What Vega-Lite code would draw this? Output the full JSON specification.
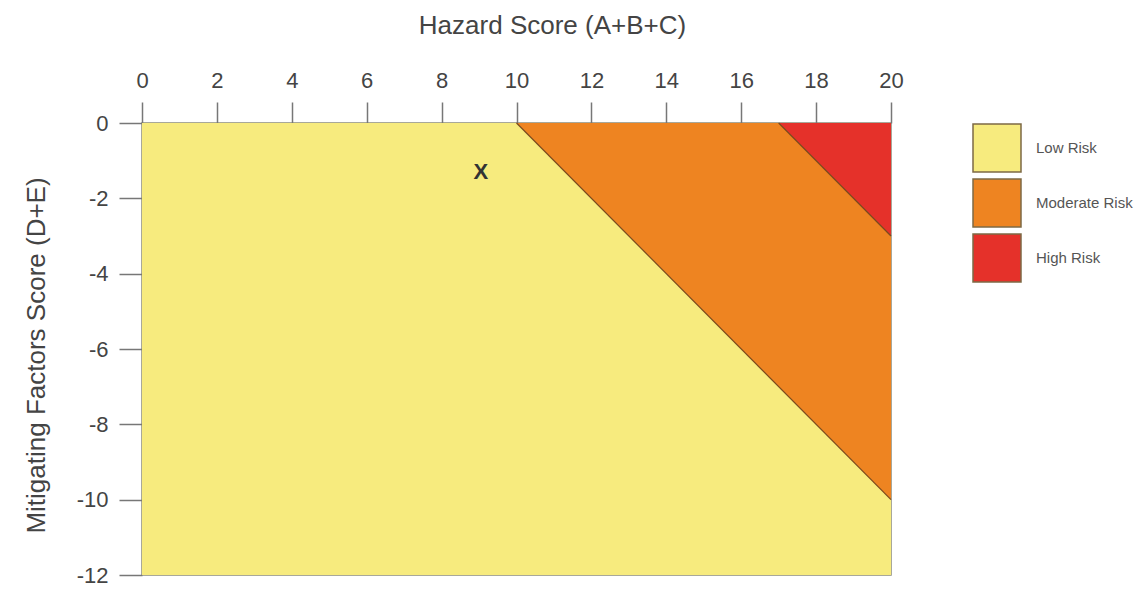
{
  "$schema": "https://vega.github.io/schema/vega-lite/v6.json",
  "autosize": "none",
  "width": 749,
  "height": 452,
  "padding": {"left": 142, "top": 123, "right": 257, "bottom": 17},
  "background": "white",
  "config": {
    "view": {"stroke": "#8c8c7a", "strokeWidth": 1.5},
    "font": "Liberation Sans",
    "axis": {"labelFont": "Liberation Sans", "titleFont": "Liberation Sans", "labelFlush": false, "labelOverlap": false},
    "legend": {"labelFont": "Liberation Sans", "titleFont": "Liberation Sans"},
    "text": {"font": "Liberation Sans"}
  },
  "datasets": {
    "low": [{"risk": "Low Risk", "x": 0, "x2": 20, "y": -12, "y2": 0}],
    "moderate": [
      {"risk": "Moderate Risk", "x": 10, "y": 0, "y2": 0},
      {"risk": "Moderate Risk", "x": 20, "y": -10, "y2": 0}
    ],
    "high": [
      {"risk": "High Risk", "x": 17, "y": 0, "y2": 0},
      {"risk": "High Risk", "x": 20, "y": -3, "y2": 0}
    ],
    "borders": [
      {"x": 10, "y": 0, "x2": 20, "y2": -10},
      {"x": 17, "y": 0, "x2": 20, "y2": -3}
    ],
    "marker": [{"label": "X", "x": 9.05, "y": -1.3}]
  },
  "layer": [
    {
      "data": {"name": "low"},
      "mark": {"type": "rect"},
      "encoding": {
        "x": {
          "field": "x", "type": "quantitative",
          "scale": {"domain": [0, 20], "nice": false},
          "axis": {
            "orient": "top",
            "values": [0, 2, 4, 6, 8, 10, 12, 14, 16, 18, 20],
            "title": "Hazard Score (A+B+C)",
            "titleFont": "Liberation Sans",
            "titleFontSize": 26,
            "titleFontWeight": "normal",
            "titleColor": "#444444",
            "titleX": 410,
            "titleY": -90,
            "titleBaseline": "alphabetic",
            "labelFont": "Liberation Sans",
            "labelFontSize": 22,
            "labelColor": "#444444",
            "labelPadding": 10,
            "labelFlush": false,
            "tickSize": 21,
            "tickColor": "#777777",
            "tickWidth": 1.5,
            "domain": false,
            "grid": false
          }
        },
        "x2": {"field": "x2"},
        "y": {
          "field": "y", "type": "quantitative",
          "scale": {"domain": [-12, 0], "nice": false},
          "axis": {
            "values": [-12, -10, -8, -6, -4, -2, 0],
            "labelExpr": "'' + datum.value",
            "title": "Mitigating Factors Score (D+E)",
            "titleFont": "Liberation Sans",
            "titleFontSize": 26,
            "titleFontWeight": "normal",
            "titleColor": "#444444",
            "titleX": -93,
            "titleY": 232,
            "labelFont": "Liberation Sans",
            "labelFontSize": 22,
            "labelColor": "#444444",
            "labelPadding": 11,
            "labelFlush": false,
            "tickSize": 23,
            "tickColor": "#777777",
            "tickWidth": 1.5,
            "domain": false,
            "grid": false
          }
        },
        "y2": {"field": "y2"},
        "color": {
          "field": "risk", "type": "nominal",
          "scale": {
            "domain": ["Low Risk", "Moderate Risk", "High Risk"],
            "range": ["#F7EB7E", "#EE8421", "#E5312A"]
          },
          "legend": {
            "title": null,
            "orient": "none",
            "legendX": 830,
            "legendY": 0,
            "symbolType": "square",
            "symbolSize": 2304,
            "symbolStrokeColor": "#7d6a45",
            "symbolStrokeWidth": 1.5,
            "symbolOpacity": 1,
            "labelFont": "Liberation Sans",
            "labelFontSize": 15,
            "labelColor": "#555555",
            "labelOffset": 14,
            "rowPadding": 1
          }
        }
      }
    },
    {
      "data": {"name": "moderate"},
      "mark": {"type": "area", "interpolate": "linear"},
      "encoding": {
        "x": {"field": "x", "type": "quantitative"},
        "y": {"field": "y", "type": "quantitative"},
        "y2": {"field": "y2"},
        "color": {"field": "risk", "type": "nominal"}
      }
    },
    {
      "data": {"name": "high"},
      "mark": {"type": "area", "interpolate": "linear"},
      "encoding": {
        "x": {"field": "x", "type": "quantitative"},
        "y": {"field": "y", "type": "quantitative"},
        "y2": {"field": "y2"},
        "color": {"field": "risk", "type": "nominal"}
      }
    },
    {
      "data": {"name": "borders"},
      "mark": {"type": "rule", "color": "#7a4a1e", "strokeWidth": 1.2},
      "encoding": {
        "x": {"field": "x", "type": "quantitative"},
        "y": {"field": "y", "type": "quantitative"},
        "x2": {"field": "x2"},
        "y2": {"field": "y2"}
      }
    },
    {
      "data": {"name": "marker"},
      "mark": {"type": "text", "fontSize": 22, "fontWeight": "bold", "color": "#333333", "font": "Liberation Sans"},
      "encoding": {
        "x": {"field": "x", "type": "quantitative"},
        "y": {"field": "y", "type": "quantitative"},
        "text": {"field": "label"}
      }
    }
  ]
}
